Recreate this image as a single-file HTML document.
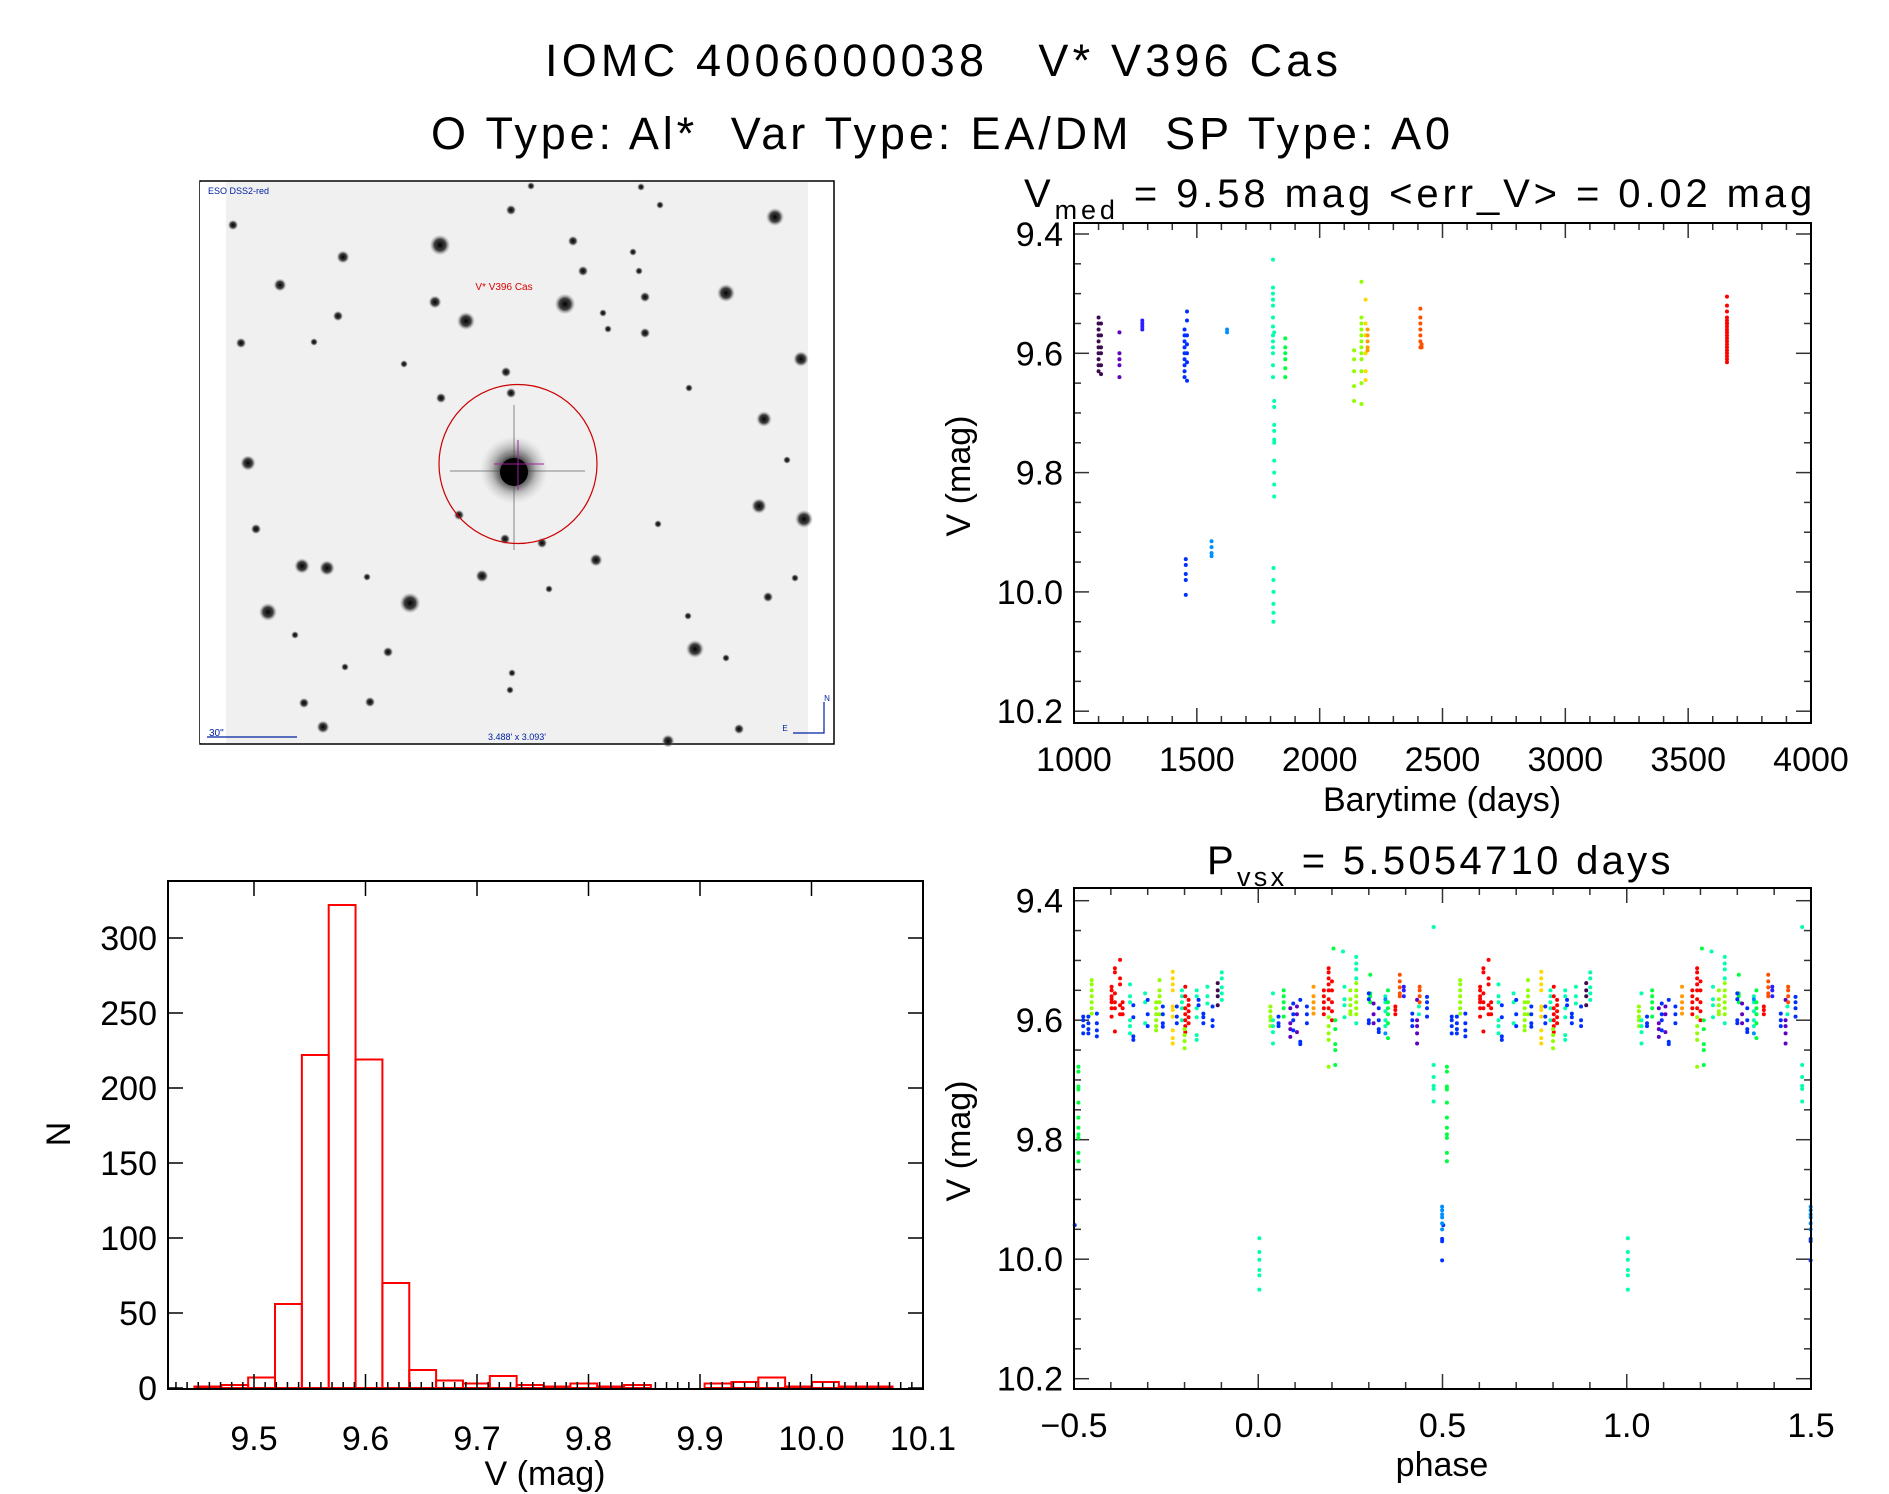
<!DOCTYPE html>
<html><head><meta charset="utf-8"><style>
html,body{margin:0;padding:0;background:#fff;}
svg{display:block;font-family:"Liberation Sans",sans-serif;}
svg text{white-space:pre;}
</style></head><body>
<svg id="fig" width="1889" height="1494" viewBox="0 0 1889 1494" xmlns="http://www.w3.org/2000/svg">
<rect x="0" y="0" width="1889" height="1494" fill="#fff"/>
<text x="545" y="76" font-size="45" textLength="793" lengthAdjust="spacing" xml:space="preserve">IOMC 4006000038   V* V396 Cas</text>
<text x="431" y="149" font-size="45" textLength="1019" lengthAdjust="spacing" xml:space="preserve">O Type: Al*  Var Type: EA/DM  SP Type: A0</text>
<text x="1024" y="207" font-size="40" letter-spacing="3.9" xml:space="preserve">V<tspan font-size="27" dy="12">med</tspan><tspan dy="-12"> = 9.58 mag &lt;err_V&gt; = 0.02 mag</tspan></text>
<text x="1207" y="874" font-size="40" letter-spacing="3.3" xml:space="preserve">P<tspan font-size="27" dy="12">vsx</tspan><tspan dy="-12"> = 5.5054710 days</tspan></text>
<g id="sky"></g>
<g id="lc"></g>
<g id="ph"></g>
<g id="hist"></g>
</svg>
<script>
// ---------- palette ----------
const palette = ["#3c0a50","#6000c0","#2a20ff","#0030ff","#0090ff","#00ffb0","#00ff40","#90ff00","#ffd800","#ff9a00","#ff5000","#ff0000"];

// ---------- light curve data ----------
const lcTime = [1100,1100,1100,1100,1100,1100,1100,1100,1100,1100,1110,1110,1110,1110,1110,1110,
1185,1185,1185,1185,1185, 1278,1278,1278,1278,
1450,1450,1450,1450,1450,1450,1450,1450,1450,1460,1460,1460,1460,1460,1460,1460,1455,1455,1455,1455,1455,
1560,1560,1560,1560,1623,1623,
1810,1810,1810,1810,1810,1810,1810,1810,1810,1810,1810,1810,1810,1815,1815,1815,1815,1815,1815,1815,1815,1815,1815,1815,1812,1812,1812,1812,1812,1812,
1860,1860,1860,1860,1860,1860,
2140,2140,2140,2140,2140,2170,2170,2170,2170,2170,2170,2170,2170,2170,2170,2170,2170,
2187,2187,2187,2187,2187,2187, 2195,2195,2195,2195,2195,
2410,2410,2410,2410,2410,2410,2410,2415,2415,
3658,3658,3658,3658,3658,3658,3658,3658,3658,3658,3658,3658,3658,3658,3658,3658,3658,3658,3658,3658];
const lcMag = [9.54,9.55,9.56,9.57,9.58,9.59,9.60,9.61,9.62,9.63,9.55,9.57,9.59,9.60,9.62,9.635,
9.565,9.60,9.61,9.62,9.64, 9.545,9.55,9.555,9.56,
9.56,9.57,9.58,9.59,9.60,9.61,9.62,9.63,9.64,9.53,9.545,9.57,9.585,9.60,9.615,9.646,9.945,9.955,9.97,9.98,10.005,
9.915,9.925,9.935,9.94,9.56,9.565,
9.443,9.49,9.50,9.51,9.52,9.54,9.555,9.57,9.58,9.59,9.60,9.62,9.64,9.68,9.69,9.72,9.73,9.745,9.75,9.78,9.80,9.82,9.84,9.565,9.96,9.98,10.0,10.02,10.035,10.05,
9.575,9.59,9.60,9.61,9.625,9.64,
9.595,9.61,9.63,9.655,9.68,9.48,9.54,9.55,9.56,9.57,9.58,9.59,9.60,9.61,9.63,9.65,9.685,
9.51,9.55,9.57,9.60,9.63,9.645, 9.56,9.57,9.58,9.59,9.595,
9.525,9.54,9.55,9.56,9.57,9.58,9.59,9.585,9.59,
9.505,9.52,9.53,9.54,9.545,9.55,9.555,9.56,9.565,9.57,9.575,9.58,9.585,9.59,9.595,9.60,9.605,9.61,9.615,9.55];
const lcColor = [0,0,0,0,0,0,0,0,0,0,0,0,0,0,0,0,
1,1,1,1,1, 2,2,2,2,
3,3,3,3,3,3,3,3,3,3,3,3,3,3,3,3,3,3,3,3,3,
4,4,4,4,4,4,
5,5,5,5,5,5,5,5,5,5,5,5,5,5,5,5,5,5,5,5,5,5,5,5,5,5,5,5,5,5,
6,6,6,6,6,6,
7,7,7,7,7,7,7,7,7,7,7,7,7,7,7,7,7,
8,8,8,8,8,8, 9,9,9,9,9,
10,10,10,10,10,10,10,10,10,
11,11,11,11,11,11,11,11,11,11,11,11,11,11,11,11,11,11,11,11];
const lcXTicks = ["1000","1500","2000","2500","3000","3500","4000"];
const lcYTicks = ["9.4","9.6","9.8","10.0","10.2"];

// ---------- phase data (phase in [0,1)) ----------
const phPhase = [0.512,0.512,0.512,0.512,0.512,0.512,0.512,0.512,0.512,0.512,0.512,
0.502,0.499,0.499,0.499,0.499,0.499,0.499,0.499,0.499,0.499,
0.525,0.525,0.525,0.525,0.539,0.539,0.539,0.539,0.562,0.562,0.562,0.562,
0.548,0.548,0.548,0.548,0.548,0.548,0.548,
0.602,0.602,0.602,0.602,0.602,0.602,0.602,0.611,0.611,0.611,0.611,0.611,0.611,0.625,0.625,0.625,0.625,0.625,0.632,0.632,0.632,
0.652,0.652,0.652,0.652,0.652,0.652,0.661,0.661,0.661,0.661,
0.693,0.693,0.693,0.700,0.700,0.700,
0.723,0.723,0.723,0.723,0.723,0.723,0.732,0.732,0.732,0.732,0.732,
0.741,0.741,0.741,0.741,
0.768,0.768,0.768,0.768,0.768,0.768,0.768,0.768,0.768,0.768,
0.779,0.779,0.779,
0.793,0.793,0.793,0.793,0.793,
0.802,0.802,0.802,0.802,0.802,0.802,0.802,0.811,0.811,0.811,0.811,0.811,
0.800,0.800,0.800,0.800,
0.833,0.833,0.833,0.833,0.833,0.833,0.838,0.838,0.851,0.851,0.851,0.862,0.862,0.862,0.876,0.876,0.876,
0.890,0.890,0.890,0.890,0.901,0.901,0.901,0.901,0.901,
0.003,0.003,0.003,0.003,0.003,0.003,
0.033,0.033,0.033,0.033,0.033,0.040,0.040,0.040,0.040,0.040,
0.069,0.069,0.069,0.069,0.069,
0.055,0.055,0.055,0.087,0.087,0.087,0.087,0.095,0.095,0.095,0.095,0.105,0.105,0.105,0.114,0.114,0.114,
0.132,0.132,0.132,
0.150,0.150,0.150,0.150,0.150,
0.178,0.178,0.178,0.178,0.178,0.191,0.191,0.191,0.191,0.191,0.191,0.191,0.200,0.200,0.200,0.200,0.200,
0.191,0.191,0.191,0.191,0.191,0.209,0.209,0.209,0.209,0.209,
0.204,0.230,
0.234,0.234,0.234,0.234,
0.250,0.250,0.250,0.250,0.250,0.266,0.266,0.266,0.266,0.266,0.266,0.266,0.266,0.266,0.266,0.266,
0.304,0.304,0.304,0.304,0.300,0.300,0.300,0.300,0.313,0.313,0.313,
0.327,0.327,0.327,0.327,0.345,0.345,0.345,0.345,0.345,0.352,0.352,0.352,0.352,0.352,0.352,0.345,0.345,
0.372,0.372,0.372,0.384,0.384,0.384,0.384,0.384,0.395,0.395,0.395,
0.418,0.418,0.418,0.431,0.431,0.431,0.431,0.431,0.438,0.438,0.438,0.438,0.436,0.436,
0.458,0.458,0.458,0.458,
0.476,0.476,0.476,0.476,0.476,0.476];
const phMag = [9.678,9.686,9.711,9.716,9.738,9.763,9.780,9.791,9.797,9.822,9.836,
9.943,9.912,9.918,9.925,9.93,9.94,9.95,9.966,9.97,10.002,
9.594,9.60,9.61,9.622,9.594,9.605,9.615,9.622,9.589,9.605,9.617,9.627,
9.533,9.54,9.55,9.56,9.57,9.58,9.589,
9.544,9.55,9.56,9.565,9.57,9.58,9.594,9.513,9.52,9.555,9.57,9.58,9.619,9.499,9.53,9.54,9.575,9.59,9.57,9.58,9.59,
9.54,9.56,9.57,9.60,9.61,9.622,9.575,9.595,9.627,9.633,
9.555,9.57,9.605,9.566,9.59,9.61,
9.57,9.58,9.59,9.60,9.61,9.617,9.533,9.55,9.56,9.57,9.59,
9.577,9.59,9.605,9.611,
9.519,9.53,9.54,9.55,9.577,9.583,9.594,9.617,9.63,9.639,
9.577,9.594,9.605,
9.55,9.56,9.57,9.58,9.60,
9.544,9.56,9.58,9.59,9.60,9.61,9.62,9.566,9.575,9.585,9.595,9.605,
9.615,9.625,9.635,9.647,
9.55,9.56,9.58,9.595,9.625,9.633,9.566,9.575,9.589,9.595,9.605,9.544,9.56,9.572,9.577,9.60,9.61,
9.538,9.55,9.56,9.575,9.52,9.53,9.545,9.555,9.566,
9.965,9.988,10.001,10.018,10.027,10.051,
9.577,9.585,9.594,9.60,9.61,9.555,9.60,9.61,9.62,9.639,
9.55,9.56,9.57,9.58,9.594,
9.594,9.605,9.61,9.58,9.605,9.615,9.628,9.572,9.59,9.60,9.617,9.577,9.59,9.62,9.566,9.64,9.636,
9.577,9.59,9.605,
9.544,9.56,9.57,9.58,9.589,
9.55,9.56,9.57,9.58,9.59,9.513,9.52,9.53,9.54,9.55,9.565,9.58,9.535,9.55,9.57,9.585,9.60,
9.595,9.61,9.622,9.633,9.678,9.60,9.615,9.64,9.65,9.675,
9.48,9.485,
9.544,9.565,9.575,9.595,
9.55,9.565,9.575,9.585,9.59,9.538,9.55,9.56,9.57,9.58,9.59,9.494,9.505,9.515,9.53,9.605,
9.524,9.555,9.56,9.57,9.555,9.565,9.60,9.605,9.572,9.59,9.605,
9.58,9.60,9.615,9.62,9.56,9.57,9.585,9.60,9.61,9.55,9.57,9.58,9.59,9.605,9.63,9.565,9.622,
9.577,9.583,9.59,9.524,9.535,9.545,9.555,9.56,9.544,9.55,9.56,
9.589,9.60,9.61,9.566,9.60,9.61,9.622,9.639,9.544,9.55,9.56,9.57,9.577,9.59,
9.561,9.57,9.58,9.594,
9.444,9.675,9.695,9.71,9.715,9.736];
const phColor = [6,6,6,6,6,6,6,6,6,6,6,
3,4,4,4,4,4,4,3,3,3,
3,3,3,3,3,3,3,3,3,3,3,3,
7,7,7,7,7,7,7,
11,11,11,11,11,11,11,11,11,11,11,11,11,11,11,11,11,11,11,11,11,
5,5,5,5,5,5,3,3,3,3,
5,5,5,3,3,3,
7,7,7,7,7,7,7,7,7,7,7,
3,3,3,3,
8,8,8,8,8,8,8,8,8,8,
3,3,3,
5,5,5,5,5,
11,11,11,11,11,11,11,11,11,11,11,11,
7,7,7,7,
5,5,5,5,5,5,3,3,3,3,3,5,5,5,3,3,3,
0,0,0,0,5,5,5,5,5,
5,5,5,5,5,5,
7,7,7,7,7,5,5,5,5,5,
6,6,6,6,6,
3,3,3,1,1,1,1,3,3,3,3,1,1,1,3,3,3,
3,3,3,
9,9,9,9,9,
11,11,11,11,11,11,11,11,11,11,11,11,11,11,11,11,11,
7,7,7,7,7,6,6,6,6,6,
6,5,
5,5,5,5,
7,7,7,7,7,7,7,7,7,7,7,5,5,5,5,5,
6,6,6,6,3,3,3,3,1,1,1,
3,3,3,3,5,5,5,5,5,6,6,6,6,6,6,4,4,
11,11,11,10,10,10,10,10,2,2,2,
3,3,3,1,1,1,1,1,10,10,10,10,5,5,
3,3,3,3,
5,5,5,5,5,5];
const phXTicks = ["\u22120.5","0.0","0.5","1.0","1.5"];

// ---------- histogram data ----------
const histStart = 9.4466;
const histWidth = 0.02408;
const histCounts = [1,2,7,56,222,322,219,70,12,5,3,8,2,1,3,1,2,0,0,3,4,7,1,4,1,1];
const histXTicks = ["9.5","9.6","9.7","9.8","9.9","10.0","10.1"];
const histYTicks = ["0","50","100","150","200","250","300"];

// ---------- finder chart stars ----------
const starX = [440,565,466,775,726,801,764,804,759,248,268,410,302,327,695,343,280,435,338,511,573,583,645,645,603,608,641,660,233,241,506,511,441,256,596,482,505,542,459,388,768,726,304,370,323,739,668,795,658,549,367,689,295,345,512,510,787,633,639,404,314,531,688];
const starY = [245,304,321,217,293,359,419,519,506,463,612,603,566,568,649,257,285,302,316,210,241,271,297,333,313,329,187,205,225,343,372,393,398,529,560,576,539,543,515,652,597,658,703,702,727,729,741,578,524,589,577,388,635,667,673,690,460,252,271,364,342,186,616];
const starR = [8,8,7,7,7,6,6,7,6,6,7,8,6,6,7,5,5,5,4,4,4,4,4,4,3,3,3,3,4,4,4,4,4,4,5,5,4,4,4,4,4,3,4,4,5,4,5,3,3,3,3,3,3,3,3,3,3,3,3,3,3,3,3];

const NS = "http://www.w3.org/2000/svg";
function mk(parent, tag, attrs) {
  const e = document.createElementNS(NS, tag);
  for (const k in attrs) e.setAttribute(k, attrs[k]);
  parent.appendChild(e);
  return e;
}
function txt(parent, x, y, s, size, anchor) {
  const t = mk(parent, "text", {x: x, y: y, "font-size": size, "text-anchor": anchor || "middle"});
  t.textContent = s;
  return t;
}

// ---------- finder chart ----------
(function(){
  const g = document.getElementById("sky");
  const fr = mk(g, "rect", {x:200, y:181, width:634, height:563, fill:"#fff", stroke:"#000", "stroke-width":1.5});
  
  
  const bg = mk(g, "rect", {x:226, y:182, width:582, height:561, fill:"#f0f0f0"});
  
  
  mk(g, "rect", {x:200, y:182, width:26, height:561, fill:"#fff"});
  const defs = mk(g, "defs", {});
  const rg = mk(defs, "radialGradient", {id:"starg"});
  mk(rg, "stop", {offset:"0", "stop-color":"#000", "stop-opacity":"1"});
  mk(rg, "stop", {offset:"0.55", "stop-color":"#222", "stop-opacity":"0.85"});
  mk(rg, "stop", {offset:"1", "stop-color":"#999", "stop-opacity":"0"});
  for (let i = 0; i < starX.length; i++) {
    const c = mk(g, "circle", {cx: starX[i], cy: starY[i], r: starR[i] * 1.3, fill: "url(#starg)"});
    
    
  }
  mk(g, "line", {x1:450, y1:471, x2:585, y2:471, stroke:"#888", "stroke-width":2, opacity:0.5});
  mk(g, "line", {x1:514, y1:405, x2:514, y2:550, stroke:"#888", "stroke-width":2, opacity:0.5});
  mk(g, "circle", {cx:514, cy:470, r:34, fill:"url(#starg)", opacity:0.5});
  const cs = mk(g, "circle", {cx:514, cy:471, r:22, fill:"url(#starg)"});
  
  
  mk(g, "circle", {cx:514, cy:472, r:14, fill:"#000"});
  mk(g, "line", {x1:494, y1:464, x2:544, y2:464, stroke:"#a020a0", "stroke-width":1});
  mk(g, "line", {x1:518, y1:440, x2:518, y2:490, stroke:"#a020a0", "stroke-width":1});
  const circ = mk(g, "ellipse", {cx:518, cy:464, rx:79, ry:79.5, fill:"none", stroke:"#cc0000", "stroke-width":1.2});
  
  
  const l1 = txt(g, 208, 194, "ESO DSS2-red", 9, "start"); l1.setAttribute("fill", "#0020a0");
  const l2 = txt(g, 504, 290, "V* V396 Cas", 10, "middle"); l2.setAttribute("fill", "#dd0000");
  const l3 = txt(g, 209, 736, "30\"", 10, "start"); l3.setAttribute("fill", "#0020a0");
  mk(g, "line", {x1:207, y1:737, x2:297, y2:737, stroke:"#0020a0", "stroke-width":1.2});
  const l4 = txt(g, 517, 740, "3.488' x 3.093'", 9, "middle"); l4.setAttribute("fill", "#0020a0");
  mk(g, "polyline", {points:"824,702 824,733 793,733", fill:"none", stroke:"#0020a0", "stroke-width":1.2});
  const l5 = txt(g, 827, 701, "N", 8, "middle"); l5.setAttribute("fill", "#0020a0");
  const l6 = txt(g, 785, 731, "E", 8, "middle"); l6.setAttribute("fill", "#0020a0");
})();

function frame(g, L, T, R, B) {
  mk(g, "rect", {x:L, y:T, width:R-L, height:B-T, fill:"none", stroke:"#000", "stroke-width":2});
}

// ---------- light curve ----------
(function(){
  const g = document.getElementById("lc");
  const L = 1074, R = 1811, T = 223, B = 723;
  const xs = t => L + (t - 1000) / 3000 * (R - L);
  const ys = v => 234 + (v - 9.4) * 596.5;
  for (let t = 1000; t <= 4000; t += 100) {
    const maj = (t % 500 === 0);
    const len = maj ? 15 : 7;
    mk(g, "line", {x1: xs(t), y1: B, x2: xs(t), y2: B - len, stroke: "#333", "stroke-width": 1.5});
    mk(g, "line", {x1: xs(t), y1: T, x2: xs(t), y2: T + len, stroke: "#333", "stroke-width": 1.5});
  }
  lcXTicks.forEach((s, i) => {
    const lab = txt(g, xs(1000 + 500 * i), 771, s, 34);
    
    
  });
  for (let k = 0; k <= 16; k++) {
    const v = 9.4 + k * 0.05;
    const len = (k % 4 === 0) ? 15 : 7;
    mk(g, "line", {x1: L, y1: ys(v), x2: L + len, y2: ys(v), stroke: "#333", "stroke-width": 1.5});
    mk(g, "line", {x1: R, y1: ys(v), x2: R - len, y2: ys(v), stroke: "#333", "stroke-width": 1.5});
  }
  lcYTicks.forEach((s, i) => {
    const lab = txt(g, 1063, ys(9.4 + 0.2 * i) + 12, s, 34, "end");
    
    
  });
  for (let i = 0; i < lcTime.length; i++) {
    const c = mk(g, "circle", {cx: xs(lcTime[i]), cy: ys(lcMag[i]), r: 2, fill: palette[lcColor[i]]});
    
    
  }
  frame(g, L, T, R, B);
  const xt = txt(g, 1442, 811, "Barytime (days)", 34);
  
  
  const yt = txt(g, 0, 0, "V (mag)", 34);
  yt.setAttribute("transform", "translate(970,476) rotate(-90)");
  
  
})();

// ---------- phase plot ----------
(function(){
  const g = document.getElementById("ph");
  const L = 1074, R = 1811, T = 888, B = 1389;
  const xs = p => L + (p + 0.5) / 2 * (R - L);
  const ys = v => 900.7 + (v - 9.4) * 597.5;
  for (let k = 0; k <= 20; k++) {
    const p = -0.5 + k * 0.1;
    const len = (k % 5 === 0) ? 15 : 7;
    mk(g, "line", {x1: xs(p), y1: B, x2: xs(p), y2: B - len, stroke: "#333", "stroke-width": 1.5});
    mk(g, "line", {x1: xs(p), y1: T, x2: xs(p), y2: T + len, stroke: "#333", "stroke-width": 1.5});
  }
  phXTicks.forEach((s, i) => {
    const lab = txt(g, xs(-0.5 + 0.5 * i), 1437, s, 34);
    
    
  });
  for (let k = 0; k <= 16; k++) {
    const v = 9.4 + k * 0.05;
    const len = (k % 4 === 0) ? 15 : 7;
    mk(g, "line", {x1: L, y1: ys(v), x2: L + len, y2: ys(v), stroke: "#333", "stroke-width": 1.5});
    mk(g, "line", {x1: R, y1: ys(v), x2: R - len, y2: ys(v), stroke: "#333", "stroke-width": 1.5});
  }
  lcYTicks.forEach((s, i) => {
    const lab = txt(g, 1063, ys(9.4 + 0.2 * i) + 12, s, 34, "end");
    
    
  });
  for (let i = 0; i < phPhase.length; i++) {
    const p = phPhase[i];
    const reps = [p, p >= 0.5 ? p - 1 : p + 1];
    reps.forEach(q => {
      if (q < -0.5 || q > 1.5) return;
      const c = mk(g, "circle", {cx: xs(q), cy: ys(phMag[i]), r: 2, fill: palette[phColor[i]]});
      
      
    });
  }
  frame(g, L, T, R, B);
  const xt = txt(g, 1442, 1476, "phase", 34);
  
  
  const yt = txt(g, 0, 0, "V (mag)", 34);
  yt.setAttribute("transform", "translate(970,1141) rotate(-90)");
  
  
})();

// ---------- histogram ----------
(function(){
  const g = document.getElementById("hist");
  const L = 168, R = 923, T = 881, B = 1389;
  const xs = v => 254 + (v - 9.5) * 1115;
  const ys = n => 1388 - n * 1.5;
  for (let i = 0; i < histCounts.length; i++) {
    const x0 = xs(histStart + i * histWidth), x1 = xs(histStart + (i + 1) * histWidth);
    const r = mk(g, "rect", {x: x0, y: ys(histCounts[i]), width: x1 - x0, height: ys(0) - ys(histCounts[i]), fill: "none", stroke: "#ff0000", "stroke-width": 2});
    
    
  }
  for (let k = 0; k <= 70; k++) {
    const v = 9.43 + k * 0.01;
    if (xs(v) < L || xs(v) > R + 0.5) continue;
    const maj = Math.abs(Math.round(v * 10) - v * 10) < 1e-6;
    const len = maj ? 15 : 7;
    mk(g, "line", {x1: xs(v), y1: B, x2: xs(v), y2: B - len, stroke: "#000", "stroke-width": 1.5});
    if (maj) mk(g, "line", {x1: xs(v), y1: T, x2: xs(v), y2: T + len, stroke: "#000", "stroke-width": 1.5});
  }
  histXTicks.forEach((s, i) => {
    const lab = txt(g, xs(9.5 + 0.1 * i), 1450, s, 34);
    
    
  });
  histYTicks.forEach((s, i) => {
    const y = ys(50 * i);
    mk(g, "line", {x1: L, y1: y, x2: L + 15, y2: y, stroke: "#000", "stroke-width": 1.5});
    mk(g, "line", {x1: R, y1: y, x2: R - 15, y2: y, stroke: "#000", "stroke-width": 1.5});
    const lab = txt(g, 157, y + 12, s, 34, "end");
    
    
  });
  frame(g, L, T, R, B);
  const xt = txt(g, 545, 1485, "V (mag)", 34);
  
  
  const yt = txt(g, 0, 0, "N", 34);
  yt.setAttribute("transform", "translate(70,1134) rotate(-90)");
  
  
})();
</script>
</body></html>
